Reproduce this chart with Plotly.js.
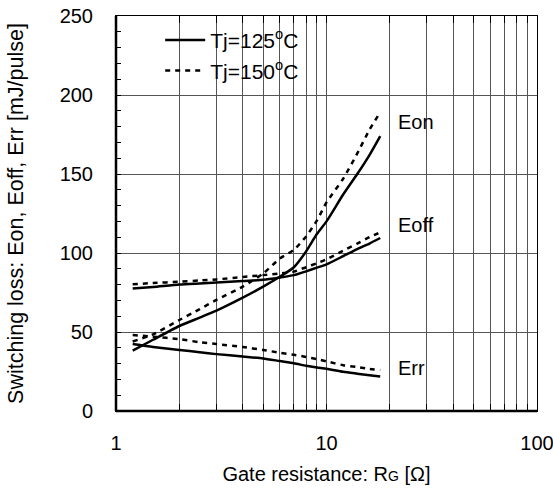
<!DOCTYPE html>
<html>
<head>
<meta charset="utf-8">
<script src="https://cdn.plot.ly/plotly-3.0.1.min.js"></script>
<style>html,body{margin:0;padding:0;background:#fff;}#chart{width:553px;height:493px;}</style>
</head>
<body>
<div id="chart"></div>
<script>
// Gate resistance RG [Ohm]
const rg = [1.2, 1.5, 2, 2.5, 3, 4, 5, 6, 7, 8, 9, 10, 12, 14, 16, 18];
// Tj = 125 C (solid)
const eon125  = [38.2, 45.1, 53.8, 59.1, 63.5, 71.7, 78.7, 85.0, 91.0, 101.0, 112.0, 120.0, 137.0, 150.0, 162.0, 174.0];
const eoff125 = [77.5, 78.5, 80.0, 80.7, 81.3, 82.3, 83.0, 84.5, 86.0, 88.4, 90.7, 92.8, 98.0, 102.5, 106.0, 109.5];
const err125  = [42.4, 40.5, 38.6, 37.2, 36.0, 34.5, 33.3, 31.6, 30.2, 28.6, 27.5, 26.7, 24.8, 23.6, 22.6, 21.8];
// Tj = 150 C (dashed)
const eon150  = [44.0, 48.5, 57.6, 64.5, 70.3, 78.7, 87.0, 96.5, 102.0, 110.5, 120.5, 132.0, 147.0, 163.0, 178.0, 189.0];
const eoff150 = [80.2, 81.0, 81.8, 82.6, 83.3, 84.8, 86.0, 87.1, 88.2, 91.0, 93.5, 96.0, 101.5, 106.0, 110.0, 113.0];
const err150  = [48.1, 47.0, 45.5, 43.5, 42.4, 40.5, 38.6, 36.9, 35.6, 34.2, 32.8, 31.4, 29.0, 27.8, 26.6, 25.9];

const xTickVals = [1, 10, 100];
const xTickText = ['1', '10', '100'];
const xMinorVals = [2,3,4,5,6,7,8,9,20,30,40,50,60,70,80,90];
const yTickVals = [0, 50, 100, 150, 200, 250];

const curveLabels = ['Eon', 'Eoff', 'Err'];
const curveLabelX = [21.5, 21.5, 21.5];
const curveLabelY = [183, 118, 27.5];

const legendNames = ['Tj=125<sup>o</sup>C', 'Tj=150<sup>o</sup>C'];

const FONT = 'Arial, "Liberation Sans", Helvetica, sans-serif';
const solid = {color: '#000', width: 2.5, dash: 'solid', shape: 'spline', smoothing: 0.6};
const dashed = {color: '#000', width: 2.5, dash: '5px,5px', shape: 'spline', smoothing: 0.6};

function tr(y, line, name, group, show) {
  return {x: rg, y: y, type: 'scatter', mode: 'lines', line: line, name: name,
          legendgroup: group, showlegend: show, hoverinfo: 'skip'};
}

const data = [
  tr(eon125, solid, legendNames[0], 'a', true),
  tr(eon150, dashed, legendNames[1], 'b', true),
  tr(eoff125, solid, legendNames[0], 'a', false),
  tr(eoff150, dashed, legendNames[1], 'b', false),
  tr(err125, solid, legendNames[0], 'a', false),
  tr(err150, dashed, legendNames[1], 'b', false)
];

const annotations = curveLabels.map((t, i) => ({
  x: Math.log10(curveLabelX[i]), y: curveLabelY[i], xref: 'x', yref: 'y',
  text: t, showarrow: false, xanchor: 'left', yanchor: 'middle',
  font: {family: FONT, size: 20, color: '#000'}
}));

const layout = {
  width: 553, height: 493,
  margin: {l: 116, r: 16, t: 16, b: 82, pad: 0},
  paper_bgcolor: '#fff', plot_bgcolor: '#fff',
  font: {family: FONT, size: 20, color: '#000'},
  showlegend: true,
  legend: {x: 0.105, y: 0.99, xanchor: 'left', yanchor: 'top',
           bgcolor: 'rgba(0,0,0,0)', borderwidth: 0,
           font: {family: FONT, size: 21, color: '#000'},
           itemwidth: 40, tracegroupgap: 0, tracegroupgap: 0},
  xaxis: {
    type: 'log', range: [0, 2], tickmode: 'array', tickvals: xTickVals, ticktext: xTickText,
    showgrid: true, gridcolor: '#555', gridwidth: 1, zeroline: false,
    showline: true, linecolor: '#000', linewidth: 1, mirror: 'ticks',
    ticks: 'inside', ticklen: 7, tickcolor: '#000', tickwidth: 1,
    minor: {tickmode: 'array', tickvals: xMinorVals, showgrid: true, gridcolor: '#555', gridwidth: 1,
            ticks: 'inside', ticklen: 7, tickcolor: '#000', tickwidth: 1},
    ticklabelstandoff: 14, ticklabeloverflow: 'allow',
    tickfont: {family: FONT, size: 20, color: '#000'},
    title: {text: 'Gate resistance: R<span style="font-size:14px">G</span> [Ω]',
            font: {family: FONT, size: 20, color: '#000'}, standoff: 13}
  },
  yaxis: {
    range: [0, 250], tickmode: 'array', tickvals: yTickVals,
    showgrid: true, gridcolor: '#555', gridwidth: 1, zeroline: false,
    showline: true, linecolor: '#000', linewidth: 1, mirror: true,
    ticks: 'inside', ticklen: 5, tickcolor: '#000', tickwidth: 1,
    minor: {dtick: 10, ticks: 'inside', ticklen: 5, tickcolor: '#000', tickwidth: 1, showgrid: false},
    ticklabelstandoff: 18,
    tickfont: {family: FONT, size: 20, color: '#000'},
    title: {text: 'Switching loss: Eon, Eoff, Err [mJ/pulse]',
            font: {family: FONT, size: 21.5, color: '#000'}, standoff: 30}
  },
  annotations: annotations,
  shapes: [
    {type: 'rect', xref: 'paper', yref: 'paper', x0: 0.003, x1: 0.487, y0: 0.806, y1: 0.997,
     fillcolor: '#fff', line: {width: 0}, layer: 'between'},
    {type: 'line', xref: 'paper', yref: 'paper', x0: 0, x1: 0, y0: 0, y1: 1,
     line: {color: '#000', width: 2.5}, layer: 'above'},
    {type: 'line', xref: 'paper', yref: 'paper', x0: 0, x1: 1, y0: 0, y1: 0,
     line: {color: '#000', width: 2.5}, layer: 'above'}
  ]
};

Plotly.newPlot('chart', data, layout, {displayModeBar: false, staticPlot: true});
</script>
</body>
</html>
